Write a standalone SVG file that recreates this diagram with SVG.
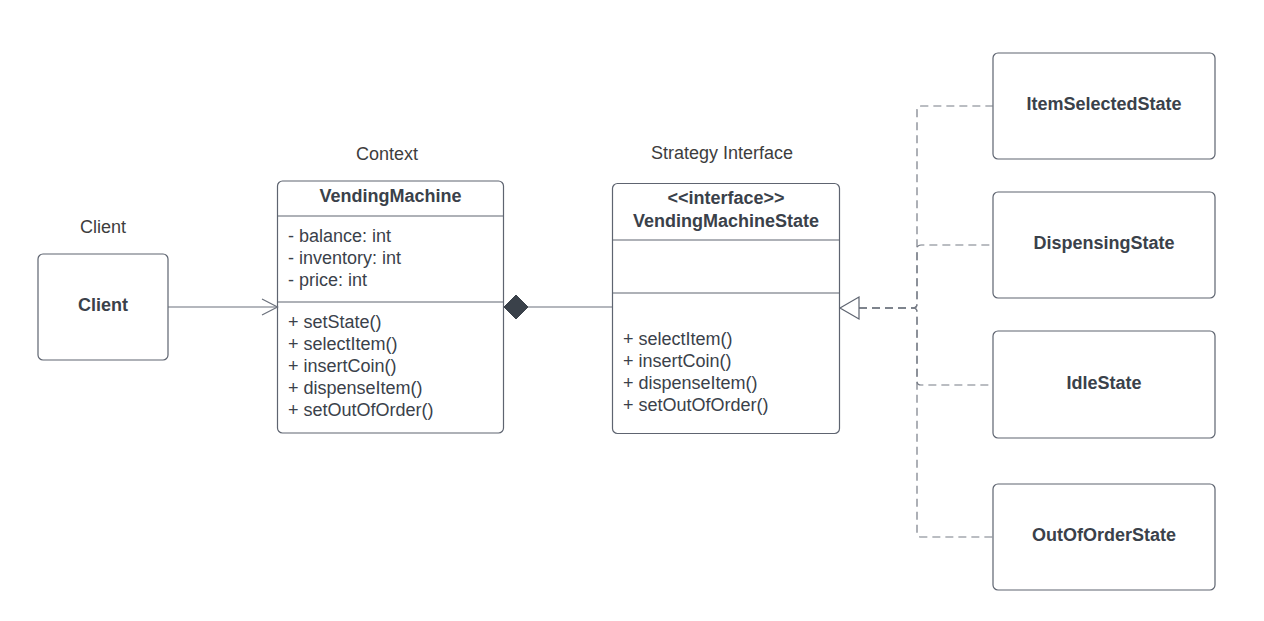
<svg xmlns="http://www.w3.org/2000/svg" width="1264" height="621" viewBox="0 0 1264 621">
<style>
.box{fill:#fff;stroke:#5e6470;stroke-width:1.2}
.div{stroke:#5e6470;stroke-width:1.2}
.t{font-family:"Liberation Sans",Arial,sans-serif;font-size:18px;fill:#3a414a}
.b{font-weight:bold;text-anchor:middle}
.lbl{font-family:"Liberation Sans",Arial,sans-serif;font-size:18px;fill:#3d3d3d;text-anchor:middle}
.ln{fill:none;stroke:#6b717c;stroke-width:1.2}
.dash{fill:none;stroke:#777c86;stroke-width:1.2;stroke-dasharray:8 5}
</style>
<rect width="1264" height="621" fill="#fff"/>
<g id="labels">
<text class="lbl" x="103" y="233">Client</text>
<text class="lbl" x="387" y="160">Context</text>
<text class="lbl" x="722" y="159">Strategy Interface</text>
</g>
<g id="client">
<rect class="box" x="38" y="254" width="130" height="106" rx="5"/>
<text class="t b" x="103" y="311">Client</text>
</g>
<g id="vendingMachine">
<rect class="box" x="277.5" y="181" width="226" height="252" rx="5"/>
<line class="div" x1="277.5" y1="216" x2="503.5" y2="216"/>
<line class="div" x1="277.5" y1="302" x2="503.5" y2="302"/>
<text class="t b" x="390.5" y="202">VendingMachine</text>
<text class="t" x="288" y="242">- balance: int</text>
<text class="t" x="288" y="264">- inventory: int</text>
<text class="t" x="288" y="286">- price: int</text>
<text class="t" x="288" y="328">+ setState()</text>
<text class="t" x="288" y="350">+ selectItem()</text>
<text class="t" x="288" y="372">+ insertCoin()</text>
<text class="t" x="288" y="394">+ dispenseItem()</text>
<text class="t" x="288" y="416">+ setOutOfOrder()</text>
</g>
<g id="vendingMachineState">
<rect class="box" x="612.5" y="183.5" width="227" height="250" rx="5"/>
<line class="div" x1="612.5" y1="240" x2="839.5" y2="240"/>
<line class="div" x1="612.5" y1="293" x2="839.5" y2="293"/>
<text class="t b" x="726" y="204">&lt;&lt;interface&gt;&gt;</text>
<text class="t b" x="726" y="227">VendingMachineState</text>
<text class="t" x="623" y="345">+ selectItem()</text>
<text class="t" x="623" y="367">+ insertCoin()</text>
<text class="t" x="623" y="389">+ dispenseItem()</text>
<text class="t" x="623" y="411">+ setOutOfOrder()</text>
</g>
<g id="itemSelectedState">
<rect class="box" x="993" y="53" width="222" height="106" rx="5"/>
<text class="t b" x="1104" y="110">ItemSelectedState</text>
</g>
<g id="dispensingState">
<rect class="box" x="993" y="192" width="222" height="106" rx="5"/>
<text class="t b" x="1104" y="249">DispensingState</text>
</g>
<g id="idleState">
<rect class="box" x="993" y="331" width="222" height="107" rx="5"/>
<text class="t b" x="1104" y="389">IdleState</text>
</g>
<g id="outOfOrderState">
<rect class="box" x="993" y="484" width="222" height="106" rx="5"/>
<text class="t b" x="1104" y="541">OutOfOrderState</text>
</g>
<g id="connectors">
<line class="ln" x1="168" y1="307" x2="277" y2="307"/>
<polyline class="ln" points="262,299 277.5,307 262,315"/>
<line class="ln" x1="528" y1="307" x2="612" y2="307"/>
<polygon points="504,307 516,295 528,307 516,319" fill="#3a414a" stroke="#3a414a" stroke-width="1"/>
<path class="dash" d="M859,308 H913 Q917,308 917,304 V110 Q917,106 921,106 H993"/>
<path class="dash" d="M859,308 H913 Q917,308 917,304 V249 Q917,245 921,245 H993"/>
<path class="dash" d="M859,308 H913 Q917,308 917,312 V381 Q917,385 921,385 H993"/>
<path class="dash" d="M859,308 H913 Q917,308 917,312 V533 Q917,537 921,537 H993"/>
<polygon points="840,308 859,297 859,319" fill="#fff" stroke="#5e6470" stroke-width="1.2"/>
</g>
</svg>
